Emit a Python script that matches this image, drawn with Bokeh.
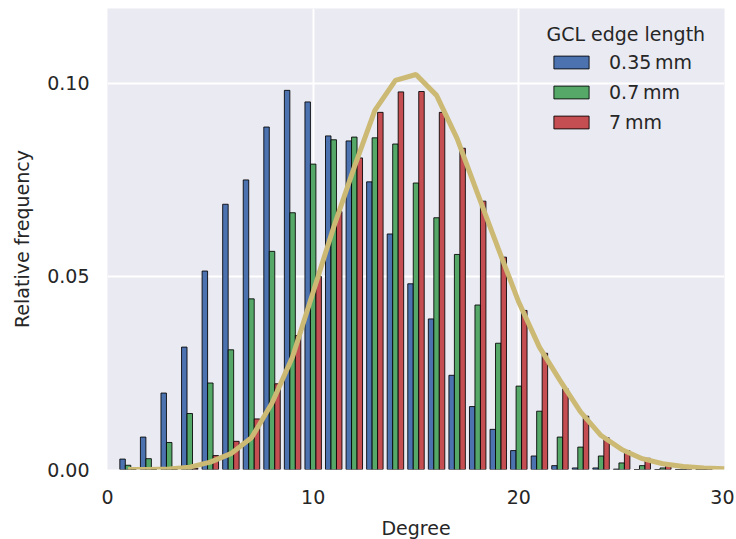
from bokeh.plotting import figure
from bokeh.models import Legend, LegendItem, FixedTicker, PrintfTickFormatter, Label
from bokeh.embed import file_html
from bokeh.resources import INLINE

# ---- data ----
degrees = list(range(1, 30))
blue_035 = [0.0027, 0.0084, 0.0198, 0.0317, 0.0514, 0.0687, 0.0750, 0.0887, 0.0982, 0.0952,
            0.0864, 0.0851, 0.0745, 0.0610, 0.0481, 0.0390, 0.0244, 0.0163, 0.0104, 0.0049,
            0.0035, 0.0010, 0.0004, 0.0004, 0.0001, 0.0, 0.0, 0.0, 0.0]
green_07 = [0.0011, 0.0028, 0.0070, 0.0145, 0.0224, 0.0310, 0.0442, 0.0565, 0.0665, 0.0791,
            0.0854, 0.0861, 0.0859, 0.0843, 0.0742, 0.0652, 0.0557, 0.0426, 0.0327, 0.0216,
            0.0151, 0.0084, 0.0058, 0.0035, 0.0017, 0.0010, 0.0004, 0.0001, 0.0]
red_7 = [0.0, 0.0, 0.0001, 0.0003, 0.0036, 0.0073, 0.0131, 0.0222, 0.0347, 0.0500,
         0.0668, 0.0807, 0.0925, 0.0978, 0.0979, 0.0925, 0.0832, 0.0695, 0.0550, 0.0412,
         0.0301, 0.0209, 0.0138, 0.0082, 0.0049, 0.0029, 0.0012, 0.0007, 0.0003]
line_x = list(range(1, 31))
line_y = [0.0, 0.0, 0.0001, 0.0006, 0.0019, 0.0041, 0.0082, 0.0172, 0.0292, 0.0460,
          0.0628, 0.0783, 0.0930, 0.1008, 0.1023, 0.0969, 0.0857, 0.0714, 0.0572, 0.0433,
          0.0317, 0.0231, 0.0149, 0.0088, 0.0052, 0.0028, 0.0015, 0.0008, 0.0004, 0.0002]
series_labels = ["0.35\u2009mm", "0.7\u2009mm", "7\u2009mm"]
legend_title = "GCL edge length"
x_ticks = [0, 10, 20, 30]
y_ticks = [0.0, 0.05, 0.10]

FONT = "DejaVu Sans"
FS = "19px"
TXT = "#262626"

p = figure(frame_width=617, frame_height=461, x_range=(0, 30), y_range=(0, 0.1194),
           output_backend="svg", toolbar_location=None,
           min_border_left=107, min_border_top=8, min_border_right=10, min_border_bottom=70)
p.background_fill_color = "#EAEAF2"
p.border_fill_color = "white"
p.outline_line_color = None

for ax in (p.xaxis[0], p.yaxis[0]):
    ax.axis_line_color = None
    ax.major_tick_line_color = None
    ax.minor_tick_line_color = None
    ax.major_tick_out = 0
    ax.major_tick_in = 0
    ax.minor_tick_out = 0
    ax.major_label_text_font = FONT
    ax.major_label_text_font_size = FS
    ax.major_label_text_color = TXT
    ax.axis_label_text_font = FONT
    ax.axis_label_text_font_size = FS
    ax.axis_label_text_color = TXT
    ax.axis_label_text_font_style = "normal"

p.xaxis.ticker = FixedTicker(ticks=x_ticks)
p.yaxis.ticker = FixedTicker(ticks=y_ticks)
p.yaxis.formatter = PrintfTickFormatter(format="%.2f")
p.xaxis.axis_label = "Degree"
p.yaxis.axis_label = "Relative frequency"
p.xaxis.major_label_standoff = 20
p.xaxis.axis_label_standoff = 10
p.yaxis.major_label_standoff = 18
p.yaxis.axis_label_standoff = 11

p.grid.grid_line_color = "white"
p.grid.grid_line_width = 2
p.xgrid.ticker = FixedTicker(ticks=x_ticks)
p.ygrid.ticker = FixedTicker(ticks=y_ticks)

bw = 0.8 / 3
colors = ["#4C72B0", "#55A868", "#C44E52"]
series = [blue_035, green_07, red_7]
renderers = []
for i, (vals, col) in enumerate(zip(series, colors)):
    xs = [d + (i - 1) * bw for d in degrees]
    r = p.vbar(x=xs, top=vals, bottom=0, width=bw, fill_color=col,
               line_color="black", line_alpha=0.85, line_width=1)
    renderers.append(r)

p.line(line_x, line_y, line_width=5, line_color="#CCB974")

legend = Legend(items=[LegendItem(label=lab, renderers=[r]) for lab, r in zip(series_labels, renderers)],
                location=(442, 336), padding=0, spacing=8, margin=0,
                glyph_width=44, glyph_height=16, label_height=20, label_standoff=16,
                label_text_font=FONT, label_text_font_size=FS, label_text_color=TXT,
                background_fill_alpha=0, border_line_alpha=0)
p.add_layout(legend, "center")

p.add_layout(Label(x=25.2, y=0.1127, text=legend_title, text_align="center",
                   text_baseline="middle", text_font=FONT, text_font_size=FS,
                   text_color=TXT))

open("out.html", "w").write(file_html(p, INLINE))
